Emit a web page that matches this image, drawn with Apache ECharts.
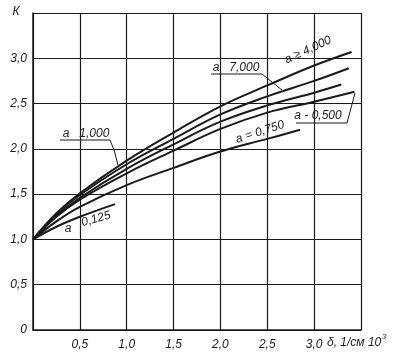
<!DOCTYPE html>
<html>
<head>
<meta charset="utf-8">
<script src="https://cdn.jsdelivr.net/npm/echarts@6/dist/echarts.min.js"></script>
<style>html,body{margin:0;padding:0;background:#fff}#c{width:395px;height:361px}</style>
</head>
<body>
<div id="c"></div>
<script>
// delta (1/cm ·10^3) and K values for each curve
const a4000 = [[0,1],[0.25,1.29],[0.5,1.51],[1.0,1.87],[1.5,2.18],[2.0,2.47],[2.5,2.70],[3.0,2.92],[3.4,3.07]];
const a2000 = [[0,1],[0.25,1.28],[0.5,1.49],[1.0,1.83],[1.5,2.11],[2.0,2.38],[2.5,2.58],[3.0,2.75],[3.37,2.89]];
const a1000 = [[0,1],[0.25,1.26],[0.5,1.46],[1.0,1.78],[1.5,2.05],[2.0,2.30],[2.5,2.48],[3.0,2.62],[3.29,2.71]];
const a0500 = [[0,1],[0.25,1.25],[0.5,1.44],[1.0,1.73],[1.5,1.98],[2.0,2.22],[2.5,2.40],[3.0,2.52],[3.43,2.63]];
const a0250 = [[0,1],[0.25,1.20],[0.5,1.36],[1.0,1.60],[1.5,1.79],[2.0,1.97],[2.5,2.11],[2.85,2.21]];
const a0125 = [[0,1],[0.25,1.14],[0.5,1.25],[0.875,1.39]];
const seriesNames = ['a ≥ 4,000','a 7,000','a 1,000','a - 0,500','a = 0,750','a 0,125'];
const seriesData = [a4000,a2000,a1000,a0500,a0250,a0125];
const xTicks = [0,0.5,1.0,1.5,2.0,2.5,3.0,3.5];
const yTicks = [0,0.5,1.0,1.5,2.0,2.5,3.0,3.5];

const FONT = 'Liberation Sans';
const INK = '#1a1a1a';
const chart = echarts.init(document.getElementById('c'));
const fmt = v => v === 0 ? '0' : v.toFixed(1).replace('.', ',');
const txt = (x, y, s, rot, size) => ({
  type: 'text', x: x, y: y, rotation: (rot || 0) * Math.PI / 180,
  style: { text: s, fill: INK, font: 'italic ' + (size || 12) + 'px "' + FONT + '"', textAlign: 'center', textVerticalAlign: 'middle' }
});
const pl = pts => ({ type: 'polyline', shape: { points: pts }, style: { stroke: INK, lineWidth: 1, fill: null } });

chart.setOption({
  animation: false,
  backgroundColor: '#fff',
  grid: { left: 33, right: 34, top: 13, bottom: 31 },
  xAxis: {
    type: 'value', min: 0, max: 3.5, interval: 0.5,
    axisLine: { show: true, lineStyle: { color: INK, width: 1.5 } },
    axisTick: { show: false },
    splitLine: { show: true, lineStyle: { color: INK, width: 1.2 } },
    axisLabel: { margin: 9, color: INK, fontFamily: FONT, fontStyle: 'italic', fontSize: 12,
      formatter: v => (v === 0 || v === 3.5) ? '' : fmt(v) }
  },
  yAxis: {
    type: 'value', min: 0, max: 3.5, interval: 0.5,
    axisLine: { show: true, lineStyle: { color: INK, width: 1.5 } },
    axisTick: { show: false },
    splitLine: { show: true, lineStyle: { color: INK, width: 1.2 } },
    axisLabel: { margin: 6, color: INK, fontFamily: FONT, fontStyle: 'italic', fontSize: 12,
      formatter: v => v === 3.5 ? '' : fmt(v) }
  },
  series: seriesData.map((d, i) => ({
    name: seriesNames[i], type: 'line', data: d, smooth: 0.4, showSymbol: false,
    lineStyle: { color: INK, width: 2 }
  })),
  graphic: [
    txt(16, 12, 'К', 0, 12),
    { type: 'text', x: 327, y: 343, style: { text: 'δ, 1/см 10', fill: INK, font: 'italic 12px "' + FONT + '"', textAlign: 'left', textVerticalAlign: 'middle' } },
    { type: 'text', x: 382, y: 337, style: { text: '3', fill: INK, font: 'italic 8px "' + FONT + '"', textAlign: 'left', textVerticalAlign: 'middle' } },
    txt(308, 50, 'a ≥ 4,000', 25, 12),
    txt(236, 68, 'a   7,000', 0, 12),
    pl([[211, 74], [262, 74], [282, 90]]),
    txt(86, 134, 'a   1,000', 0, 12),
    pl([[60, 140], [110, 140], [114, 150], [118, 165]]),
    txt(318, 116, 'a - 0,500', 0, 12),
    pl([[296, 123], [347, 123], [355, 93]]),
    txt(260, 132, 'a = 0,750', 18, 12),
    txt(68, 229, 'a', 0, 12),
    txt(96, 219, '0,125', 16, 12)
  ]
});
</script>
</body>
</html>
